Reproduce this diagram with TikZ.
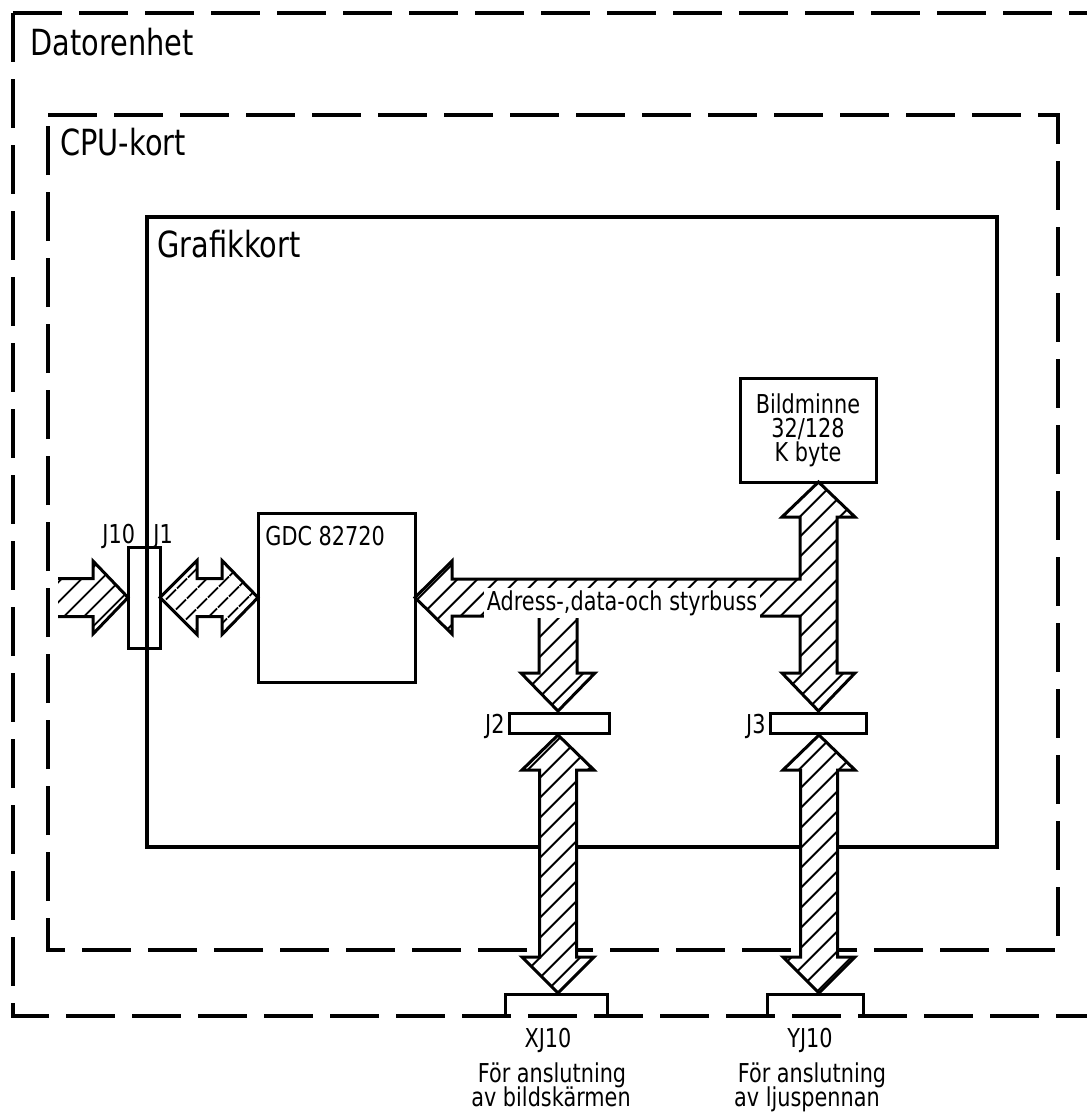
\documentclass[tikz,border=0pt]{standalone}
\usepackage{fontspec}
\setmainfont{DejaVu Sans}[FakeStretch=0.8]
\usetikzlibrary{patterns.meta}
\begin{document}
\begin{tikzpicture}[x=0.5pt,y=-0.5pt,
  frame/.style={line width=2.1pt, dash pattern=on 24.5pt off 8.5pt},
  board/.style={draw, line width=1.8pt, inner sep=0pt},
  box/.style={draw, line width=1.5pt, inner sep=0pt},
  hatch/.style={preaction={fill=white}, pattern={Lines[angle=45,distance=7.4pt,line width=1.1pt]}},
  outline/.style={draw, line width=1.5pt, line join=miter},
  big/.style={font=\fontsize{18}{20}\selectfont, inner sep=0pt},
  small/.style={font=\fontsize{13}{12}\selectfont, inner sep=0pt}]
\useasboundingbox (0,0) rectangle (1087,1115);

% Datorenhet frame
\draw[frame] (13,13) -- (1087,13);
\draw[frame] (13,13) -- (13,1016) -- (1087,1016);
\node[big, anchor=base west] (tDator) at (30,55) {Datorenhet};

% CPU-kort frame
\draw[frame] (48,115) -- (1058,115) -- (1058,950) -- (48,950) -- cycle;
\node[big, anchor=base west] (tCPU) at (60,155) {CPU-kort};

% Grafikkort
\node[board, minimum width=425pt, minimum height=315pt] (graf) at (572,532) {};
\node[big, anchor=base west] (tGraf) at (157,257) {Grafikkort};

% GDC
\node[box, minimum width=78.5pt, minimum height=84.5pt] (gdc) at (336.5,597.5) {};
\node[small, anchor=base west] (tGDC) at (265,545) {GDC 82720};

% Bildminne
\node[box, small, align=center, minimum width=68pt, minimum height=52pt] (bild) at (808,430) {Bildminne\\32/128\\K byte};

% input arrow (open tail)
\fill[hatch] (58,578.5) -- (93,578.5) -- (93,561) -- (128,597.5) -- (93,634) -- (93,616.5) -- (58,616.5) -- cycle;
\draw[line width=1.5pt, line join=miter] (58,578.5) -- (93,578.5) -- (93,561) -- (128,597.5) -- (93,634) -- (93,616.5) -- (58,616.5);

% J1 <-> GDC double arrow
\path[hatch, outline] (160,597.5) -- (197,560.5) -- (197,578.5) -- (222,578.5) -- (222,560.5) -- (258,597.5)
  -- (222,634.5) -- (222,616.5) -- (197,616.5) -- (197,634.5) -- cycle;

% bus
\path[hatch, outline] (415,597.5) -- (452,561) -- (452,579) -- (800,579) -- (800,517) -- (782,517)
  -- (818.5,482) -- (855,517) -- (837,517) -- (837,673) -- (855,673) -- (818.5,711) -- (782,673)
  -- (800,673) -- (800,616) -- (577,616) -- (577,673) -- (595,673) -- (558,711) -- (521,673)
  -- (539,673) -- (539,616) -- (452,616) -- (452,634) -- cycle;
\node[small, fill=white, inner sep=1.2pt, anchor=base] (tBus) at (622,610) {Adress-,data-och styrbuss};

% lower double arrows
\path[hatch, outline] (558,735) -- (594,770) -- (576.5,770) -- (576.5,957) -- (594,957) -- (558,993)
  -- (522,957) -- (539.5,957) -- (539.5,770) -- (522,770) -- cycle;
\path[hatch, outline] (819,735) -- (855,770) -- (837.5,770) -- (837.5,957) -- (855,957) -- (819,993)
  -- (783,957) -- (800.5,957) -- (800.5,770) -- (783,770) -- cycle;

% connectors
\node[box, minimum width=16pt, minimum height=50.5pt] (j1) at (144,597.5) {};
\node[small, anchor=base west] (tJ10) at (102,543) {J10};
\node[small, anchor=base west] (tJ1) at (153,543) {J1};

\node[box, fill=white, minimum width=50pt, minimum height=10pt] (j2) at (559,723) {};
\node[box, fill=white, minimum width=48pt, minimum height=10pt] (j3) at (818,723) {};
\node[small, anchor=base east] (tJ2) at (505,733) {J2};
\node[small, anchor=base east] (tJ3) at (766,733) {J3};

\coordinate (xa) at (505,1016); \coordinate (xb) at (607,1016);
\coordinate (ya) at (767,1016); \coordinate (yb) at (863,1016);
\draw[line width=1.5pt] (xa) -- (505,994) -- (607,994) -- (xb);
\draw[line width=1.5pt] (ya) -- (767,994) -- (863,994) -- (yb);

\node[small, anchor=base] (tXJ) at (548,1047) {XJ10};
\node[small, anchor=base] (tX1) at (552,1082) {För anslutning};
\node[small, anchor=base] (tX2) at (551,1106) {av bildskärmen};
\node[small, anchor=base] (tYJ) at (810,1047) {YJ10};
\node[small, anchor=base] (tY1) at (812,1082) {För anslutning};
\node[small, anchor=base] (tY2) at (807,1106) {av ljuspennan};
\end{tikzpicture}
\end{document}
